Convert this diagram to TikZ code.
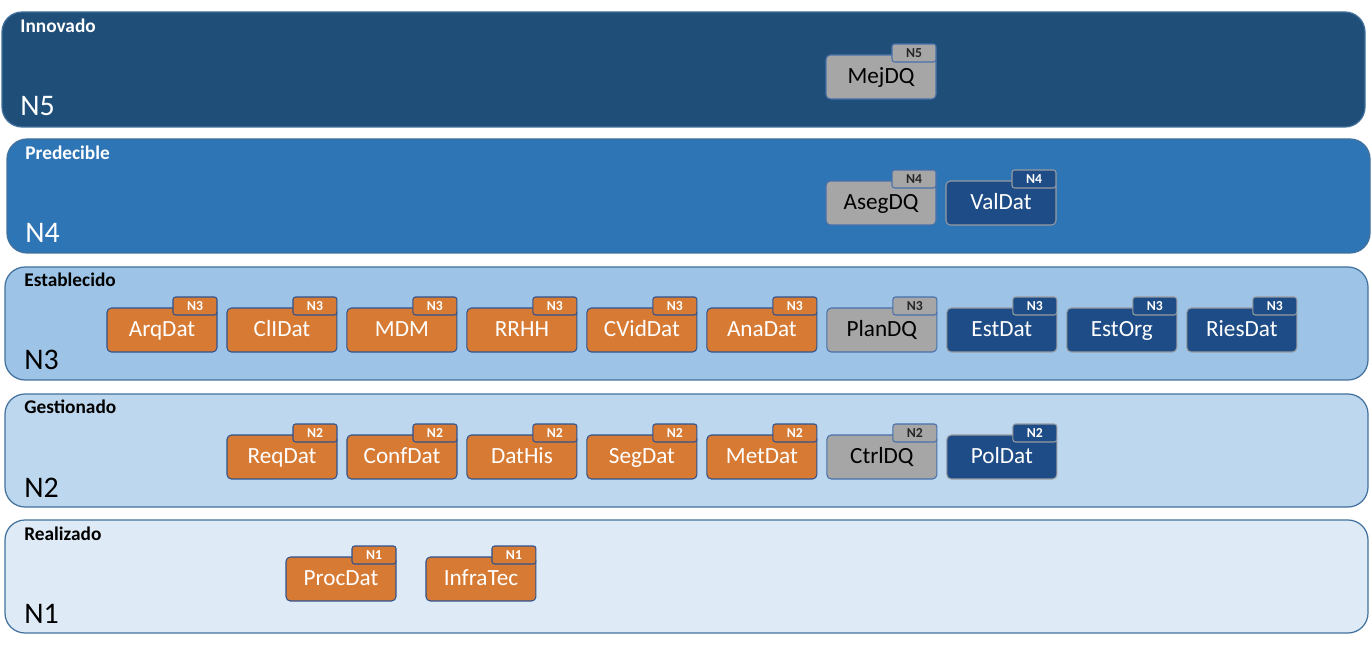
\documentclass[tikz,border=0pt]{standalone}
\usepackage{fontspec}
\setmainfont{Carlito}
\usetikzlibrary{positioning}
\definecolor{bandfive}{RGB}{31,78,121}
\definecolor{bandfour}{RGB}{46,117,182}
\definecolor{bandthree}{RGB}{157,195,230}
\definecolor{bandtwo}{RGB}{189,215,238}
\definecolor{bandone}{RGB}{222,235,247}
\definecolor{bandline}{RGB}{65,113,156}
\definecolor{boxorange}{RGB}{215,123,52}
\definecolor{boxgray}{RGB}{166,166,166}
\definecolor{boxnavy}{RGB}{30,76,135}
\definecolor{orangeline}{RGB}{47,82,143}
\definecolor{grayline}{RGB}{72,112,170}
\definecolor{navyline}{RGB}{150,155,160}
\tikzstyle{band}=[draw=bandline, line width=0.7pt, rounded corners=0.4cm]
\tikzstyle{title}=[anchor=base west, inner sep=0pt, font=\bfseries\fontsize{11}{13}\selectfont]
\tikzstyle{level}=[anchor=base west, inner sep=0pt, font=\fontsize{17}{20}\selectfont]
\tikzstyle{item}=[draw, rectangle, rounded corners=2.5pt, line width=0.6pt,
  minimum width=2.2cm, minimum height=0.88cm, inner sep=0pt,
  text height=1.9ex, text depth=.35ex, font=\fontsize{13.2}{15}\selectfont]
\tikzstyle{orangebox}=[item, fill=boxorange, draw=orangeline, text=white]
\tikzstyle{graybox}=[item, fill=boxgray, draw=grayline, text=black]
\tikzstyle{navybox}=[item, fill=boxnavy, draw=navyline, text=white]
\tikzstyle{tab}=[draw, rectangle, rounded corners=1.5pt, line width=0.6pt,
  minimum width=0.88cm, minimum height=0.36cm, inner sep=0pt, anchor=north east,
  font=\bfseries\fontsize{7.8}{8}\selectfont]
\tikzstyle{orangetab}=[tab, fill=boxorange, draw=orangeline, text=white]
\tikzstyle{graytab}=[tab, fill=boxgray, draw=grayline, text=black!85]
\tikzstyle{navytab}=[tab, fill=boxnavy, draw=navyline, text=white]

\begin{document}
\begin{tikzpicture}[x=0.02cm, y=-0.02cm, node distance=2.4cm]
    \useasboundingbox[fill=white] (0,0) rectangle (1371,651);
    % levels
    \draw[band, fill=bandfive] (2,12) rectangle (1365,127);
    \draw[band, fill=bandfour] (7,139) rectangle (1370,253);
    \draw[band, fill=bandthree] (5,267) rectangle (1368,380);
    \draw[band, fill=bandtwo] (5,394) rectangle (1368,507);
    \draw[band, fill=bandone] (5,520) rectangle (1368,633);
    \node[title, text=white] (innovado) at (20,33) {Innovado};
    \node[level, text=white] (nfive) at (20,116) {N5};
    \node[title, text=white] (predecible) at (25,160) {Predecible};
    \node[level, text=white] (nfour) at (25,243) {N4};
    \node[title] (establecido) at (24,287) {Establecido};
    \node[level] (nthree) at (24,370) {N3};
    \node[title] (gestionado) at (24,413) {Gestionado};
    \node[level] (ntwo) at (24,497) {N2};
    \node[title] (realizado) at (24,540) {Realizado};
    \node[level] (none) at (24,623) {N1};
    % N5
    \node[graybox] (mejdq) at (881,77) {MejDQ};
    % N4
    \node[graybox] (asegdq) at (881,203) {AsegDQ};
    \node[navybox, right of=asegdq] (valdat) {ValDat};
    % N3
    \node[orangebox] (arqdat) at (162,330) {ArqDat};
    \node[orangebox, right of=arqdat] (clidat) {ClIDat};
    \node[orangebox, right of=clidat] (mdm) {MDM};
    \node[orangebox, right of=mdm] (rrhh) {RRHH};
    \node[orangebox, right of=rrhh] (cviddat) {CVidDat};
    \node[orangebox, right of=cviddat] (anadat) {AnaDat};
    \node[graybox, right of=anadat] (plandq) {PlanDQ};
    \node[navybox, right of=plandq] (estdat) {EstDat};
    \node[navybox, right of=estdat] (estorg) {EstOrg};
    \node[navybox, right of=estorg] (riesdat) {RiesDat};
    % N2
    \node[orangebox] (reqdat) at (282,457) {ReqDat};
    \node[orangebox, right of=reqdat] (confdat) {ConfDat};
    \node[orangebox, right of=confdat] (dathis) {DatHis};
    \node[orangebox, right of=dathis] (segdat) {SegDat};
    \node[orangebox, right of=segdat] (metdat) {MetDat};
    \node[graybox, right of=metdat] (ctrldq) {CtrlDQ};
    \node[navybox, right of=ctrldq] (poldat) {PolDat};
    % N1
    \node[orangebox] (procdat) at (341,579) {ProcDat};
    \node[orangebox, right of=procdat, node distance=2.8cm] (infratec) {InfraTec};
    % tabs
    \foreach \b/\k/\n in {mejdq/gray/N5, asegdq/gray/N4, valdat/navy/N4,
        arqdat/orange/N3, clidat/orange/N3, mdm/orange/N3, rrhh/orange/N3,
        cviddat/orange/N3, anadat/orange/N3, plandq/gray/N3, estdat/navy/N3,
        estorg/navy/N3, riesdat/navy/N3,
        reqdat/orange/N2, confdat/orange/N2, dathis/orange/N2, segdat/orange/N2,
        metdat/orange/N2, ctrldq/gray/N2, poldat/navy/N2,
        procdat/orange/N1, infratec/orange/N1}
      \node[\k tab] (\b-tab) at ([yshift=0.22cm]\b.north east) {\n};
\end{tikzpicture}
\end{document}
